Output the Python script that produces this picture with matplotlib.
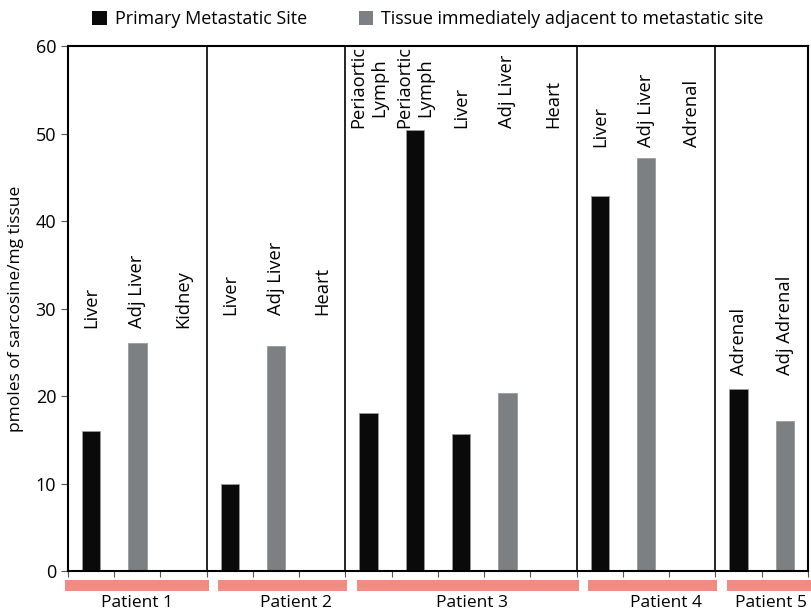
import matplotlib
matplotlib.use("Agg")
import matplotlib.pyplot as plt
import matplotlib.transforms as mtransforms
from matplotlib.patches import Rectangle

plt.rcParams['font.family'] = ['Open Sans', 'DejaVu Sans']

patients = ["Patient 1", "Patient 2", "Patient 3", "Patient 4", "Patient 5"]
sites = [
    ["Liver", "Adj Liver", "Kidney"],
    ["Liver", "Adj Liver", "Heart"],
    ["Periaortic\nLymph", "Periaortic\nLymph", "Liver", "Adj Liver", "Heart"],
    ["Liver", "Adj Liver", "Adrenal"],
    ["Adrenal", "Adj Adrenal"],
]
values = [
    [16.0, 26.1, 0.0],
    [9.9, 25.7, 0.0],
    [18.1, 50.4, 15.7, 20.4, 0.0],
    [42.9, 47.2, 0.0],
    [20.8, 17.2],
]
kinds = [  # P = primary metastatic site, A = adjacent tissue
    ["P", "A", "P"],
    ["P", "A", "P"],
    ["P", "P", "P", "A", "P"],
    ["P", "A", "P"],
    ["P", "A"],
]
label_base = [27.8, 29.3, 50.6, 48.5, 22.4]
patient_label_shift = [0.0, 0.28, 0.1, 0.28, 0.05]

colors = {"P": "#0a0a0a", "A": "#7d8083"}
legend_names = {"P": "Primary Metastatic Site", "A": "Tissue immediately adjacent to metastatic site"}

fig = plt.figure(figsize=(8.11, 6.15), dpi=100)
ax = fig.add_axes([0.0838, 0.0715, 0.9125, 0.8535])

idx = 0
bounds = [-0.5]
for p, (s_list, v_list, k_list) in enumerate(zip(sites, values, kinds)):
    for s, v, k in zip(s_list, v_list, k_list):
        ax.bar(idx, v, width=0.4, color=colors[k], edgecolor='#9a9a9a', linewidth=0.6)
        ax.text(idx, label_base[p], s, rotation=90, ha='center', va='bottom',
                fontsize=13.2, linespacing=1.25)
        idx += 1
    bounds.append(idx - 0.5)

n = idx
ax.set_xlim(-0.5, n - 0.5)
ax.set_ylim(0, 60)
for b in bounds[1:-1]:
    ax.axvline(b, color='black', linewidth=1.2)

ax.set_xticks([i - 0.5 for i in range(n + 1)])
ax.set_xticklabels([])
ax.tick_params(axis='x', direction='out', length=4, width=0.8, color='#555555')
ax.set_yticks(range(0, 61, 10))
ax.tick_params(axis='y', direction='out', length=5, width=0.8, labelsize=13, color='#555555')
for sp in ax.spines.values():
    sp.set_linewidth(1.5)
ax.set_ylabel("pmoles of sarcosine/mg tissue", fontsize=12.5, labelpad=8)

# patient bands below the axis
trans = mtransforms.blended_transform_factory(ax.transData, ax.transAxes)
for p, name in enumerate(patients):
    left = bounds[p] + 0.25 if p > 0 else -0.56
    right = bounds[p + 1] + 0.04 if p < len(patients) - 1 else n - 0.44
    ax.add_patch(Rectangle((left, -0.0171), right - left, -0.021, transform=trans,
                           facecolor='#f28b82', edgecolor='none', clip_on=False))
    ax.text((left + right) / 2 + patient_label_shift[p], -0.046, name, transform=trans,
            ha='center', va='top', fontsize=12.5)

# legend
handles = [Rectangle((0, 0), 1, 1, facecolor=colors[k], edgecolor='none') for k in ["P", "A"]]
fig.legend(handles, [legend_names["P"], legend_names["A"]], loc='upper left',
           bbox_to_anchor=(0.094, 1.01), ncol=2, frameon=False, fontsize=12.9,
           handlelength=0.8, handleheight=0.8, handletextpad=0.45, columnspacing=2.9)

fig.savefig("out.png", dpi=100)
